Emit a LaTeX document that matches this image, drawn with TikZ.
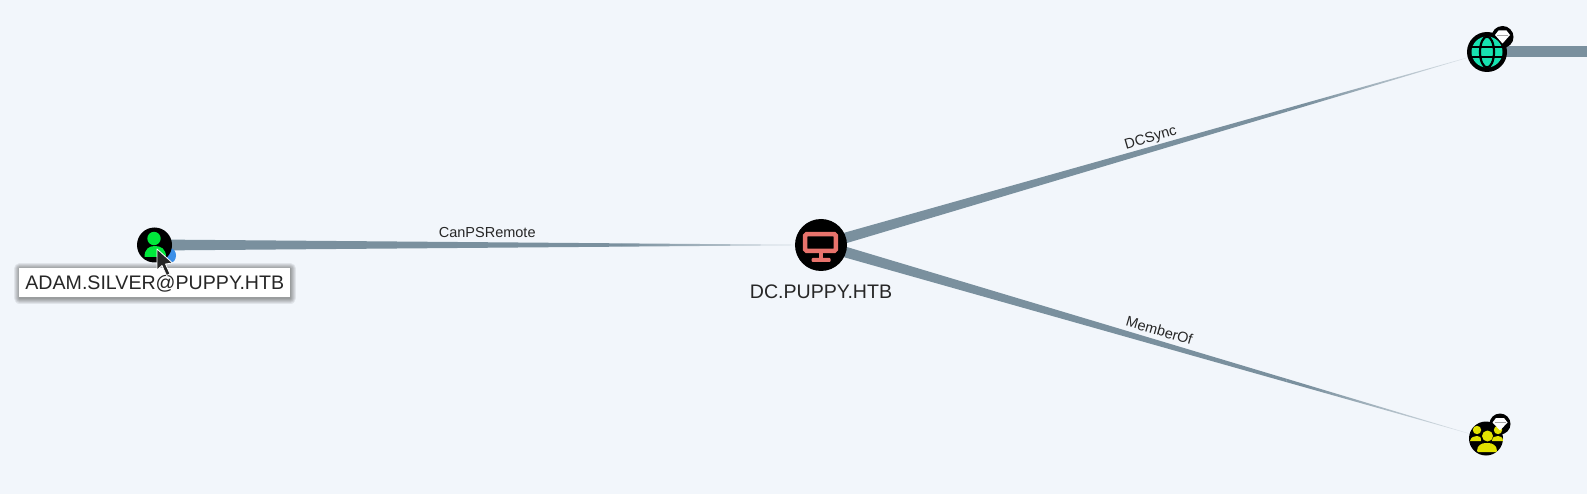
\documentclass[tikz,border=0pt]{standalone}
\usepackage{fontspec}
\setmainfont{Liberation Sans}
\usetikzlibrary{calc,backgrounds}
\definecolor{pagecolor}{HTML}{F2F6FB}
\definecolor{edgecolor}{HTML}{7A909E}
\definecolor{fadecolor}{HTML}{DDE4EA}
\definecolor{usercolor}{HTML}{00E83B}
\definecolor{compcolor}{HTML}{E8736C}
\definecolor{domaincolor}{HTML}{17E2B0}
\definecolor{groupcolor}{HTML}{E2E200}
\definecolor{dropcolor}{HTML}{3B8FE8}
\tikzset{
    graphnode/.style={circle, fill=black, inner sep=0pt},
    edgefill/.style={fill=edgecolor},
    edgefade/.style={left color=edgecolor, right color=fadecolor},
    edgelabel/.style={font=\fontsize{14.5}{16}\selectfont, text=black!85, inner sep=4pt, text height=10pt, text depth=3pt, sloped, above},
    nodelabel/.style={font=\fontsize{19.6}{23}\selectfont, text=black!85, inner sep=0pt},
    gem/.style={fill=white},
    gemline/.style={draw=black!35, line width=0.7pt},
}
\begin{document}
\begin{tikzpicture}[x=1pt, y=-1pt]
        \useasboundingbox ( 0, 0 ) rectangle ( 1587, 494 );

        % вершины
        \node [graphnode, minimum size=35pt] (adam) at ( 154.5, 245 ) {};
        \node [graphnode, minimum size=52pt] (dc) at ( 821, 245 ) {};
        \node [graphnode, minimum size=40pt] (domain) at ( 1487, 52 ) {};
        \node [graphnode, minimum size=34pt] (group) at ( 1486, 438.5 ) {};
        \node [graphnode, minimum size=22pt] (domainbadge) at ( 1502.5, 37 ) {};
        \node [graphnode, minimum size=21pt] (groupbadge) at ( 1500, 424 ) {};
        \coordinate (offpage) at ( 1587, 52 );
        \coordinate (adamfade) at ($(adam)!0.7!(dc)$);
        \coordinate (domainfade) at ($(dc)!0.7!(domain)$);
        \coordinate (groupfade) at ($(dc)!0.7!(group)$);

        % подписи
        \node [nodelabel, fill=white, minimum width=271pt, minimum height=29pt, text height=14pt, text depth=0pt] (adamlabel) at ( 154.8, 282.5 ) {ADAM.SILVER@PUPPY.HTB};
        \node [nodelabel] (dclabel) at ( 821, 291.5 ) {DC.PUPPY.HTB};

        % рёбра и фон
        \begin{pgfonlayer}{background}
            \path [fill=pagecolor] ( 0, 0 ) rectangle ( 1587, 494 );
            \fill [edgefill] ($(adam)!5.5pt!90:(dc)$) -- ($(adam)!5.5pt!-90:(dc)$) -- ($(adamfade)!1.65pt!-90:(dc)$) -- ($(adamfade)!1.65pt!90:(dc)$) -- cycle;
            \shade [edgefade] ($(adamfade)!1.65pt!90:(dc)$) -- ($(adamfade)!1.65pt!-90:(dc)$) -- (dc.center) -- cycle;
            \fill [edgefill] ($(dc)!5.5pt!90:(domain)$) -- ($(dc)!5.5pt!-90:(domain)$) -- ($(domainfade)!1.65pt!-90:(domain)$) -- ($(domainfade)!1.65pt!90:(domain)$) -- cycle;
            \shade [edgefade, shading angle=106] ($(domainfade)!1.65pt!90:(domain)$) -- ($(domainfade)!1.65pt!-90:(domain)$) -- (domain.center) -- cycle;
            \fill [edgefill] ($(dc)!5.5pt!90:(group)$) -- ($(dc)!5.5pt!-90:(group)$) -- ($(groupfade)!1.65pt!-90:(group)$) -- ($(groupfade)!1.65pt!90:(group)$) -- cycle;
            \shade [edgefade, shading angle=73.5] ($(groupfade)!1.65pt!90:(group)$) -- ($(groupfade)!1.65pt!-90:(group)$) -- (group.center) -- cycle;
            \draw [edgecolor, line width=11pt] (domain.center) -- (offpage);
            \fill [dropcolor] ( 171, 255.5 ) ellipse ( 5pt and 7pt );
            \foreach \w in {11, 9, 7, 5, 3, 1.5}
                \draw [black, opacity=0.07, line width=\w pt, line join=round] ( 19.5, 269 ) rectangle ( 290.5, 298 );
        \end{pgfonlayer}

        % подписи рёбер
        \path (adam) -- node [edgelabel, pos=0.506] (canpsremote) {CanPSRemote} (dc);
        \path (dc) -- node [edgelabel, pos=0.495] (dcsync) {DCSync} (domain);
        \path (dc) -- node [edgelabel, pos=0.497] (memberof) {MemberOf} (group);

        % пользователь
        \fill [usercolor] ( 154, 238.5 ) circle ( 6.7pt );
        \fill [usercolor] ( 144.5, 257 ) .. controls ( 144.5, 249 ) and ( 149, 246 ) .. ( 155, 246 ) .. controls ( 161, 246 ) and ( 166, 249 ) .. ( 166, 257 ) -- cycle;

        % компьютер
        \draw [compcolor, line width=4.5pt, rounded corners=1.5pt, fill=black] ( 805.2, 234.2 ) rectangle ( 835.8, 251 );
        \fill [compcolor] ( 818.5, 252 ) rectangle ( 823, 259 );
        \fill [compcolor, rounded corners=1pt] ( 811.5, 258 ) rectangle ( 830.5, 262 );

        % домен
        \fill [domaincolor] (domain) circle ( 15.5pt );
        \draw [black, line width=2.2pt] (domain) ellipse ( 7pt and 15.5pt );
        \draw [black, line width=2.2pt] ( 1472.3, 47 ) -- ( 1501.7, 47 );
        \draw [black, line width=2.2pt] ( 1472.3, 57 ) -- ( 1501.7, 57 );

        % группа
        \fill [groupcolor] ( 1477, 430 ) circle ( 4.2pt );
        \fill [groupcolor] ( 1498, 430 ) circle ( 4.2pt );
        \fill [groupcolor] ( 1470, 441 ) .. controls ( 1471, 437 ) and ( 1474, 436 ) .. ( 1477, 436 ) .. controls ( 1480, 436 ) and ( 1481, 437 ) .. ( 1481, 441 ) -- cycle;
        \fill [groupcolor] ( 1492, 441 ) .. controls ( 1492, 437 ) and ( 1495, 436 ) .. ( 1498, 436 ) .. controls ( 1500, 436 ) and ( 1503, 437 ) .. ( 1503, 441 ) -- cycle;
        \fill [groupcolor] ( 1487.5, 436 ) circle ( 5.5pt );
        \fill [groupcolor, rounded corners=1pt] ( 1477, 452 ) .. controls ( 1477, 445 ) and ( 1482, 443 ) .. ( 1487, 443 ) .. controls ( 1492, 443 ) and ( 1497, 445 ) .. ( 1497, 452 ) -- cycle;

        % алмазы
        \fill [gem] ( 1498.5, 30.5 ) -- ( 1506.5, 30.5 ) -- ( 1510, 35 ) -- ( 1502.5, 43.5 ) -- ( 1495, 35 ) -- cycle;
        \draw [gemline] ( 1497, 35 ) -- ( 1508, 35 );
        \fill [gem] ( 1496, 418 ) -- ( 1504, 418 ) -- ( 1507.5, 422.5 ) -- ( 1500, 430.5 ) -- ( 1492.5, 422.5 ) -- cycle;
        \draw [gemline] ( 1494.5, 422.5 ) -- ( 1505.5, 422.5 );

        % курсор
        \draw [fill=black!85, draw=white, line width=0.8pt, line join=round] ( 157, 249 ) -- ( 157, 270 ) -- ( 162, 265.5 ) -- ( 166.5, 275.5 ) -- ( 170, 274 ) -- ( 165.5, 264 ) -- ( 172.5, 263 ) -- cycle;
    \end{tikzpicture}
\end{document}
